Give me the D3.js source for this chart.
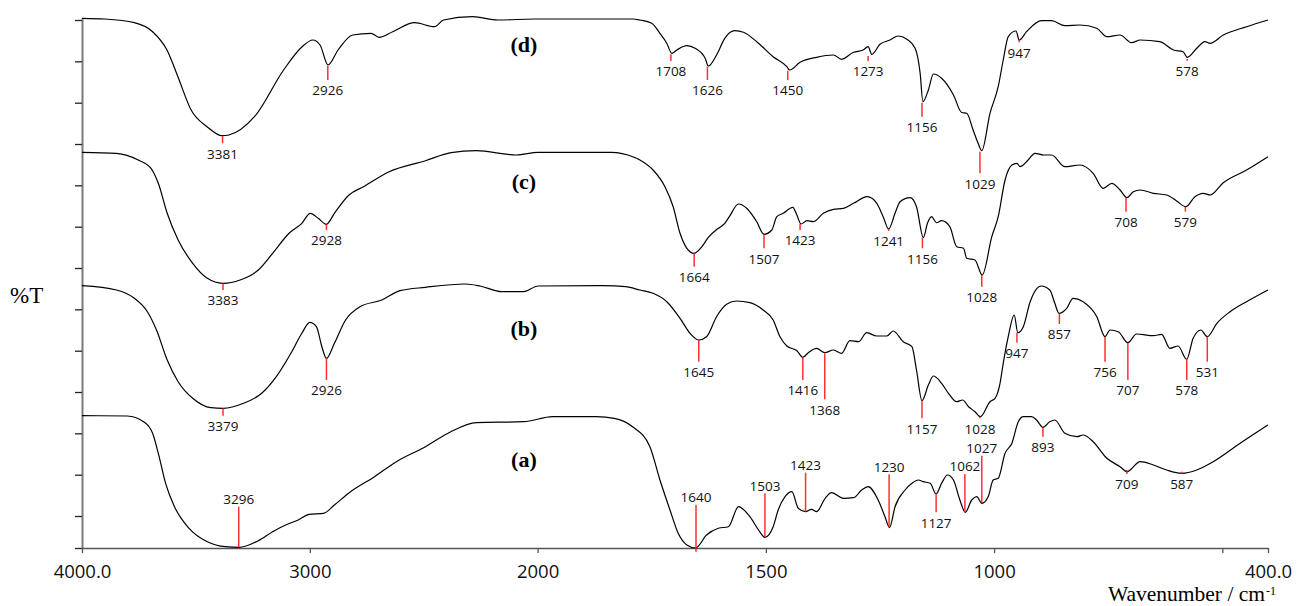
<!DOCTYPE html>
<html><head><meta charset="utf-8">
<script src="https://cdn.jsdelivr.net/npm/d3@7"></script>
<style>body{margin:0;background:#fff} svg{display:block}</style>
</head><body>
<svg id="chart" width="1297" height="606"></svg>
<script>
// ---- axis ticks ----
const xTickValues = [4000, 3000, 2000, 1500, 1000, 500, 400];
const xTickLabels = ["4000.0", "3000", "2000", "1500", "1000", "", "400.0"];
const yTickValues = [0, 32, 73.3, 114.7, 156, 197.3, 238.7, 280, 321.3, 362.7, 404, 445.3, 486.7, 528];

// ---- spectra: [wavenumber, %T (arbitrary stacked units)] ----
const specA = [[4000,132.3],[3801,132],[3730,126.3],[3690,114.7],[3665,94.7],[3633,64.7],[3594,41.3],[3530,19.7],[3450,6.3],[3370,1.3],[3312,0.7],[3226,7.3],[3163,16.3],[3099,23.7],[3051,28],[3003,33.7],[2939,34.7],[2892,43],[2827,55.3],[2716,71.3],[2620,86.3],[2492,101.3],[2381,116.3],[2269,125.3],[2061,126.3],[1967,131.3],[1871,131.3],[1832,129.7],[1792,121.3],[1754,101.3],[1732,68],[1710,38],[1692,14.7],[1673,3],[1654,0],[1630,13],[1604,19.7],[1582,21.3],[1560,41.3],[1535,31.3],[1516,18],[1502,10.7],[1484,21.3],[1473,38],[1458,51.3],[1443,56.3],[1429,39.7],[1413,36.3],[1400,38.7],[1389,36.3],[1370,49.7],[1356,55.3],[1330,49.7],[1308,50.3],[1290,58],[1276,61.3],[1254,48],[1239,31.3],[1229,20.3],[1217,41.3],[1195,58],[1180,64.7],[1166,68],[1155,66.3],[1140,64.7],[1127,54],[1115,64.7],[1102,73],[1089,68],[1075,48],[1063,35.7],[1049,48],[1038,51.3],[1027,44.7],[1013,51.3],[1002,68],[991,69.7],[976,94.7],[961,104.7],[947,126.3],[936,131.3],[918,131.3],[907,128],[893,120.7],[878,126.3],[867,128],[845,114.7],[819,111.3],[805,113],[783,106.3],[753,89.7],[724,81.3],[709,76.3],[680,86.3],[651,83],[622,78],[589,74.7],[556,78],[520,86.3],[461,104.7],[400,123]];

const specB = [[4000,262.3],[3849,258],[3770,249.7],[3713,236.3],[3673,218],[3626,188],[3578,166.3],[3514,149.7],[3434,140.3],[3381,139.7],[3291,144.7],[3211,154.7],[3147,171.3],[3083,194.7],[3035,214.7],[3000,225.7],[2971,221.3],[2947,201.3],[2927,189.7],[2892,204.7],[2843,228],[2780,241.3],[2684,248],[2604,257.3],[2492,260.7],[2316,264],[2253,262],[2157,256.3],[2061,256.3],[1999,262],[1855,262.3],[1807,261.3],[1776,258],[1747,254.7],[1717,246.3],[1688,229.7],[1666,214.7],[1647,208],[1630,211.3],[1608,231.3],[1586,243.7],[1564,247],[1535,245.3],[1506,238],[1484,228],[1469,211.3],[1454,202],[1432,197.3],[1419,190.7],[1407,195.3],[1389,199.7],[1371,195.3],[1352,198],[1334,194.7],[1316,207.3],[1297,206.3],[1279,215.3],[1257,212],[1235,212],[1221,217],[1199,206.3],[1180,201.3],[1170,178],[1158,147.3],[1144,163],[1133,172],[1115,164.7],[1100,154.7],[1082,146.3],[1069,148],[1056,141.3],[1042,136.3],[1030,131.3],[1009,146.3],[998,149.7],[987,164.7],[980,184.7],[969,211.3],[956,233],[948,215.3],[936,221.3],[921,246.3],[897,262],[878,258],[867,244.7],[858,234.7],[841,239.7],[827,249.7],[805,246.3],[775,231.3],[757,211.3],[746,218],[728,216.3],[707,205.3],[688,214],[651,212.3],[633,213.7],[615,199.7],[597,202],[578,188.7],[564,209.7],[547,218],[533,211.3],[512,224.7],[483,236.3],[447,246.3],[400,258]];

const specC = [[4000,395.7],[3849,394.7],[3753,388],[3697,379.7],[3665,364.7],[3626,334.7],[3578,308],[3514,284.7],[3450,269.7],[3381,264.7],[3306,268],[3226,278],[3163,294.7],[3091,314.7],[3035,324.7],[2998,334.7],[2963,329.7],[2927,323.7],[2892,334.7],[2828,353],[2764,361.3],[2652,376.3],[2492,387.3],[2380,395.3],[2269,397.3],[2093,393],[1999,395.7],[1839,395.7],[1790,391],[1776,388],[1747,378],[1721,361.3],[1703,341.3],[1688,314.7],[1673,299.7],[1657,294.7],[1640,301.3],[1626,310.7],[1604,319.7],[1590,324.7],[1580,331.3],[1560,344],[1542,339.7],[1520,326.3],[1504,313.7],[1487,318],[1476,331.3],[1462,334.7],[1441,340.7],[1432,333],[1423,324],[1410,327.3],[1396,326.3],[1374,334.7],[1352,338.7],[1330,339.7],[1308,344.7],[1278,351.3],[1257,344.7],[1243,331.3],[1231,319],[1217,334.7],[1206,346.3],[1184,350.3],[1170,341.3],[1155,310.3],[1146,324.7],[1137,331.3],[1126,325.3],[1115,327.3],[1097,321.3],[1082,301.3],[1067,299.7],[1060,289.7],[1042,288],[1026,273],[1005,311.3],[991,331.3],[976,368],[961,383],[950,384.7],[943,381.3],[929,386.3],[910,394.7],[892,393],[874,393],[845,381.3],[812,383],[783,374.7],[761,359.7],[742,364.7],[724,358],[709,350.3],[695,356.3],[680,358],[651,354.7],[622,353],[600,347],[580,341.3],[560,351.3],[542,354.7],[527,353],[498,365.3],[447,378],[400,391.3]];

const specD = [[4000,529.7],[3900,529],[3770,525.3],[3690,516.3],[3627,498],[3579,471.3],[3521,438],[3451,421.3],[3385,412.3],[3355,413],[3243,431.3],[3115,478],[3034,501.3],[2987,508],[2955,503],[2920,483],[2876,498],[2812,513],[2731,514.7],[2696,510.7],[2636,516.3],[2540,525.3],[2453,521.3],[2413,528],[2285,531.3],[2174,528],[2014,529],[1792,529],[1776,528],[1750,524.7],[1732,514.7],[1717,504.7],[1706,494.7],[1695,498],[1673,502.3],[1655,499.7],[1633,489.7],[1626,482],[1608,493],[1590,509.7],[1568,517.3],[1549,515.7],[1520,506.3],[1484,491.3],[1454,481.3],[1448,478],[1425,485.7],[1389,490.7],[1352,493],[1334,488.7],[1308,495.7],[1287,498],[1276,501.3],[1268,493.7],[1250,503.7],[1228,508],[1210,512],[1191,508.7],[1173,499.7],[1162,474.7],[1156,446.3],[1144,458],[1133,474],[1115,469.7],[1089,453],[1071,435.5],[1060,434.7],[1046,418],[1035,404.7],[1027,397.3],[1009,434.7],[991,461.3],[980,488],[969,511.3],[952,517],[945,508],[929,516.3],[896,527.3],[874,527.3],[845,522.3],[812,523],[775,519.7],[753,511.3],[724,513],[699,505.3],[680,508],[637,506.3],[607,498],[586,496.3],[577,490.7],[556,499.7],[538,506.3],[527,504.7],[498,513],[447,521.3],[400,528]];

// ---- peak annotations: [label, wavenumber, line start, line end, side(b=label below, a=label above)] ----
const peaksA = [["3296",3312,0.7,41.3,"a"],["1640",1653,-3.7,43,"a"],["1503",1502,11.3,54.7,"a"],["1423",1413,36.3,75.3,"a"],["1230",1230,21.3,73.7,"a"],["1127",1127,53.7,35.7,"b"],["1062",1064,35.7,74,"a"],["1027",1027,44.7,92.3,"a"],["893",893,120.7,111.3,"b"],["709",709,78,74,"b"],["587",589,76.3,74,"b"]];
const peaksB = [["3379",3381,139.7,132.3,"b"],["2926",2927,189.7,168,"b"],["1645",1647,208,186.3,"b"],["1416",1419,190.7,168,"b"],["1368",1371,194.7,148.7,"b"],["1157",1158,147.3,129.7,"b"],["1028",1031,131.3,129.7,"b"],["947",950,215.3,205.3,"b"],["857",857,234.7,224,"b"],["756",757,211.3,186.3,"b"],["707",707,205.3,168,"b"],["578",578,188.7,168,"b"],["531",533,211.3,186.3,"b"]];
const peaksC = [["3383",3381,264.7,258,"b"],["2928",2927,323.7,318,"b"],["1664",1657,294.7,281.3,"b"],["1507",1504,313.7,299.7,"b"],["1423",1425,324,318,"b"],["1241",1231,319,317,"b"],["1156",1157,310.3,299.7,"b"],["1028",1027,273,261.3,"b"],["708",711,350.3,336.3,"b"],["579",581,341.3,336.3,"b"]];
const peaksD = [["3381",3383,412.3,404.7,"b"],["2926",2921,482.3,468,"b"],["1708",1708,493.7,487,"b"],["1626",1628,481.3,468,"b"],["1450",1452,477.3,468,"b"],["1273",1276,492,487,"b"],["1156",1158,445.3,431.3,"b"],["1029",1031,396.3,374.7,"b"],["947",945,508,505.7,"b"],["578",577,489,487.3,"b"]];

// ---- series labels ----
const seriesNames = ["(a)", "(b)", "(c)", "(d)"];
const seriesLabelWn = 2060;
const seriesLabelT = [87.3, 218.7, 365.3, 502.3];

const xTitle = "Wavenumber / cm";
const xTitleSup = "-1";
const yTitle = "%T";

// ---- scales ----
const svg = d3.select("#chart");
const x = d3.scaleLinear().domain([4000, 2000, 400]).range([82, 537.6, 1268]);
const y = d3.scaleLinear().domain([0, 530]).range([548, 18]);

// y axis
const gy = svg.append("g").attr("transform", "translate(82,0)")
  .call(d3.axisLeft(y).tickValues(yTickValues).tickFormat("").tickSize(7).tickSizeOuter(0));
gy.select(".domain").attr("stroke", "#7a7a7a").attr("stroke-width", 2);
gy.selectAll(".tick line").attr("stroke", "#222").attr("stroke-width", 1.3);

// x axis
const gx = svg.append("g").attr("transform", "translate(0,548)")
  .call(d3.axisBottom(x).tickValues(xTickValues).tickFormat((d, i) => xTickLabels[i]).tickSize(5).tickSizeOuter(0));
gx.select(".domain").attr("stroke", "#555").attr("stroke-width", 1.5);
gx.selectAll(".tick line").attr("stroke", "#555").attr("stroke-width", 1.3);
gx.selectAll(".tick text").attr("y", 29.5).attr("dy", 0)
  .attr("font-family", "'Open Sans', sans-serif").attr("font-size", 18.5).attr("fill", "#111");

// spectra
const line = d3.line().x(d => x(d[0])).y(d => y(d[1])).curve(d3.curveMonotoneX);
[specA, specB, specC, specD].forEach(s => {
  svg.append("path").attr("d", line(s)).attr("fill", "none")
    .attr("stroke", "#000").attr("stroke-width", 1.2).attr("stroke-linejoin", "round");
});

// peak markers
[peaksA, peaksB, peaksC, peaksD].forEach(list => {
  const g = svg.append("g");
  list.forEach(p => {
    const [lab, wn, t1, t2, side] = p;
    g.append("line").attr("x1", x(wn)).attr("x2", x(wn)).attr("y1", y(t1)).attr("y2", y(t2))
      .attr("stroke", "#ff1a1a").attr("stroke-width", 1.5).attr("stroke-opacity", 0.9);
    const cy = side === "b" ? y(t2) + 10.5 : y(t2) - 7.5;
    g.append("text").attr("x", x(wn)).attr("y", cy).attr("dy", "0.35em")
      .attr("text-anchor", "middle").attr("font-family", "'Open Sans', sans-serif")
      .attr("font-size", 13.5).attr("fill", "#111").text(lab);
  });
});

// series labels
seriesNames.forEach((n, i) => {
  svg.append("text").attr("x", x(seriesLabelWn)).attr("y", y(seriesLabelT[i])).attr("dy", "0.3em")
    .attr("text-anchor", "middle").attr("font-family", "'Liberation Serif', 'Times New Roman', serif")
    .attr("font-weight", "bold").attr("font-size", 22).attr("fill", "#000").text(n);
});

// axis titles
svg.append("text").attr("x", 1265).attr("y", 601).attr("text-anchor", "end")
  .attr("font-family", "'Liberation Serif', 'Times New Roman', serif").attr("font-size", 21.5)
  .attr("fill", "#000").text(xTitle);
svg.append("text").attr("x", 1266).attr("y", 595)
  .attr("font-family", "'Liberation Serif', 'Times New Roman', serif").attr("font-size", 12)
  .attr("fill", "#000").text(xTitleSup);
svg.append("text").attr("x", 10).attr("y", 303)
  .attr("font-family", "'Liberation Serif', 'Times New Roman', serif").attr("font-size", 23)
  .attr("fill", "#000").text(yTitle);
</script>
</body></html>
